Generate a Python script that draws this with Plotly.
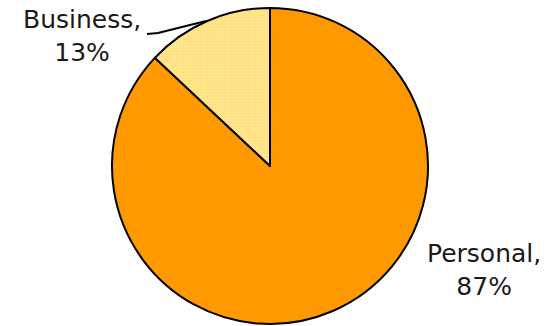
import plotly.graph_objects as go

# Share of trips by purpose
categories = ["Personal", "Business"]
shares = [87, 13]

slice_colors = ["#FF9900", "#FFE07A"]
slice_patterns = ["", "."]

W, H = 558, 326


def px(x, y):
    """Convert pixel position to paper coordinates."""
    return x / W, 1 - y / H


fig = go.Figure(
    go.Pie(
        labels=categories,
        values=shares,
        sort=False,
        direction="clockwise",
        rotation=0,
        textinfo="none",
        hoverinfo="label+percent",
        marker=dict(
            colors=slice_colors,
            line=dict(color="black", width=2),
            pattern=dict(
                shape=slice_patterns,
                fillmode="overlay",
                fgcolor="#FFF6CC",
                size=3,
                solidity=0.35,
            ),
        ),
        domain=dict(x=[112 / W, 428 / W], y=[2 / H, 318 / H]),
        showlegend=False,
    )
)

label_font = dict(family="DejaVu Sans", size=25, color="#1a1a1a")
total = sum(shares)
label_pos = {"Business": (82, 36), "Personal": (484, 270)}
annotations = []
for name, val in zip(categories, shares):
    x, y = px(*label_pos[name])
    annotations.append(
        dict(
            x=x, y=y, xref="paper", yref="paper",
            text=f"{name},<br>{round(100 * val / total)}%",
            showarrow=False, font=label_font, align="center",
            xanchor="center", yanchor="middle",
        )
    )

# Leader line from the Business label to its slice
p0, p1, p2 = px(147, 34), px(158, 33), px(206, 21)
fig.add_shape(
    type="path",
    xref="paper", yref="paper",
    path=f"M {p0[0]},{p0[1]} L {p1[0]},{p1[1]} L {p2[0]},{p2[1]}",
    line=dict(color="black", width=2),
)

fig.update_layout(
    width=W, height=H,
    margin=dict(l=0, r=0, t=0, b=0),
    paper_bgcolor="white",
    plot_bgcolor="white",
    annotations=annotations,
)

fig.write_html("out.html")
